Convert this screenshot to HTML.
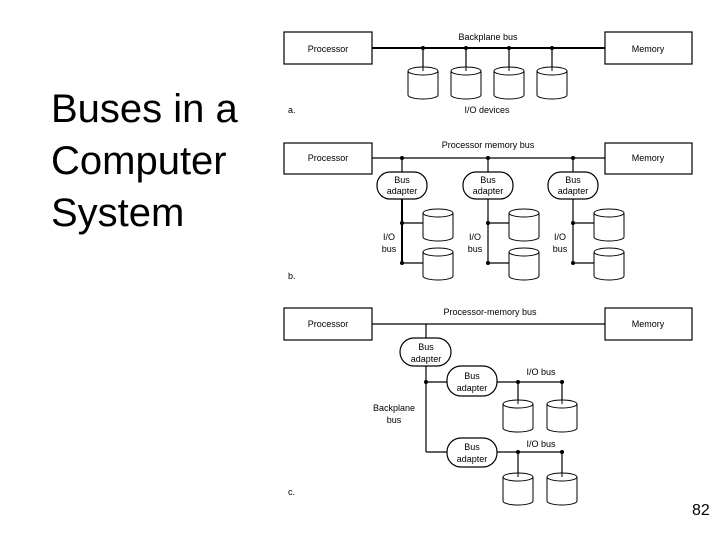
<!DOCTYPE html>
<html><head><meta charset="utf-8"><style>
body{margin:0;background:#fff;}
svg{display:block;}
</style></head><body>
<svg width="720" height="540" xmlns="http://www.w3.org/2000/svg" font-family="Liberation Sans, sans-serif">
<rect width="720" height="540" fill="#fff"/>
<g font-size="40" fill="#000">
<text x="51" y="122">Buses in a</text>
<text x="51" y="174">Computer</text>
<text x="51" y="226">System</text>
</g>
<text x="692" y="515" font-size="16">82</text>
<defs>
<g id="cyl">
<path d="M0,4 L0,28 A15,4 0 0 0 30,28 L30,4" fill="#fff" stroke="#000" stroke-width="1"/>
<ellipse cx="15" cy="4" rx="15" ry="4" fill="#fff" stroke="#000" stroke-width="1"/>
</g>
</defs>
<g stroke="#000" fill="none" stroke-width="1.2">
<!-- a -->
<rect x="284" y="32" width="88" height="32"/>
<rect x="605" y="32" width="87" height="32"/>
<line x1="372" y1="48" x2="605" y2="48" stroke-width="2"/>
<line x1="423" y1="48" x2="423" y2="70"/>
<line x1="466" y1="48" x2="466" y2="70"/>
<line x1="509" y1="48" x2="509" y2="70"/>
<line x1="552" y1="48" x2="552" y2="70"/>
<!-- b -->
<rect x="284" y="143" width="88" height="31"/>
<rect x="605" y="143" width="87" height="31"/>
<line x1="372" y1="158" x2="605" y2="158"/>
<line x1="402" y1="158" x2="402" y2="172"/>
<line x1="488" y1="158" x2="488" y2="172"/>
<line x1="573" y1="158" x2="573" y2="172"/>
<line x1="402" y1="199" x2="402" y2="264" stroke-width="2"/>
<line x1="488" y1="199" x2="488" y2="264"/>
<line x1="573" y1="199" x2="573" y2="264"/>
<line x1="402" y1="223" x2="424" y2="223"/><line x1="402" y1="263" x2="424" y2="263"/>
<line x1="488" y1="223" x2="510" y2="223"/><line x1="488" y1="263" x2="510" y2="263"/>
<line x1="573" y1="223" x2="595" y2="223"/><line x1="573" y1="263" x2="595" y2="263"/>
<rect x="377" y="172" width="50" height="27" rx="13"/>
<rect x="463" y="172" width="50" height="27" rx="13"/>
<rect x="548" y="172" width="50" height="27" rx="13"/>
<!-- c -->
<rect x="284" y="308" width="88" height="32"/>
<rect x="605" y="308" width="87" height="32"/>
<line x1="372" y1="324" x2="605" y2="324"/>
<line x1="426" y1="324" x2="426" y2="338"/>
<line x1="426" y1="366" x2="426" y2="452"/>
<line x1="426" y1="382" x2="447" y2="382"/>
<line x1="426" y1="452" x2="447" y2="452"/>
<rect x="400" y="338" width="51" height="28" rx="14"/>
<rect x="447" y="366" width="50" height="30" rx="14"/>
<rect x="447" y="438" width="50" height="29" rx="14"/>
<line x1="497" y1="382" x2="562" y2="382"/>
<line x1="497" y1="452" x2="562" y2="452"/>
<line x1="518" y1="382" x2="518" y2="405"/><line x1="562" y1="382" x2="562" y2="405"/>
<line x1="518" y1="452" x2="518" y2="478"/><line x1="562" y1="452" x2="562" y2="478"/>
</g>
<!-- cylinders -->
<use href="#cyl" x="408" y="67"/><use href="#cyl" x="451" y="67"/><use href="#cyl" x="494" y="67"/><use href="#cyl" x="537" y="67"/>
<use href="#cyl" x="423" y="209"/><use href="#cyl" x="423" y="248"/>
<use href="#cyl" x="509" y="209"/><use href="#cyl" x="509" y="248"/>
<use href="#cyl" x="594" y="209"/><use href="#cyl" x="594" y="248"/>
<use href="#cyl" x="503" y="400"/><use href="#cyl" x="547" y="400"/>
<use href="#cyl" x="503" y="473"/><use href="#cyl" x="547" y="473"/>
<g stroke="#000" stroke-width="1">
<line x1="423" y1="48" x2="423" y2="71"/><line x1="466" y1="48" x2="466" y2="71"/><line x1="509" y1="48" x2="509" y2="71"/><line x1="552" y1="48" x2="552" y2="71"/>
<line x1="518" y1="382" x2="518" y2="404"/><line x1="562" y1="382" x2="562" y2="404"/>
<line x1="518" y1="452" x2="518" y2="477"/><line x1="562" y1="452" x2="562" y2="477"/>
</g>
<g fill="#000">
<circle cx="423" cy="48" r="2"/><circle cx="466" cy="48" r="2"/><circle cx="509" cy="48" r="2"/><circle cx="552" cy="48" r="2"/>
<circle cx="402" cy="158" r="2"/><circle cx="488" cy="158" r="2"/><circle cx="573" cy="158" r="2"/>
<circle cx="402" cy="223" r="2"/><circle cx="402" cy="263" r="2"/>
<circle cx="488" cy="223" r="2"/><circle cx="488" cy="263" r="2"/>
<circle cx="573" cy="223" r="2"/><circle cx="573" cy="263" r="2"/>
<circle cx="426" cy="382" r="2"/>
<circle cx="518" cy="382" r="2"/><circle cx="562" cy="382" r="2"/>
<circle cx="518" cy="452" r="2"/><circle cx="562" cy="452" r="2"/>
</g>
<g font-size="9" fill="#000" text-anchor="middle">
<text x="328" y="52">Processor</text><text x="648" y="52">Memory</text>
<text x="488" y="40">Backplane bus</text>
<text x="487" y="113">I/O devices</text>
<text x="288" y="113" text-anchor="start">a.</text>
<text x="328" y="161">Processor</text><text x="648" y="161">Memory</text>
<text x="488" y="148">Processor memory bus</text>
<text x="402" y="183">Bus</text><text x="402" y="194">adapter</text>
<text x="488" y="183">Bus</text><text x="488" y="194">adapter</text>
<text x="573" y="183">Bus</text><text x="573" y="194">adapter</text>
<text x="389" y="240">I/O</text><text x="389" y="252">bus</text>
<text x="475" y="240">I/O</text><text x="475" y="252">bus</text>
<text x="560" y="240">I/O</text><text x="560" y="252">bus</text>
<text x="288" y="279" text-anchor="start">b.</text>
<text x="328" y="327">Processor</text><text x="648" y="327">Memory</text>
<text x="490" y="315">Processor-memory bus</text>
<text x="426" y="350">Bus</text><text x="426" y="362">adapter</text>
<text x="472" y="379">Bus</text><text x="472" y="391">adapter</text>
<text x="472" y="450">Bus</text><text x="472" y="462">adapter</text>
<text x="541" y="375">I/O bus</text><text x="541" y="447">I/O bus</text>
<text x="394" y="411">Backplane</text><text x="394" y="423">bus</text>
<text x="288" y="495" text-anchor="start">c.</text>
</g>
</svg>
</body></html>
